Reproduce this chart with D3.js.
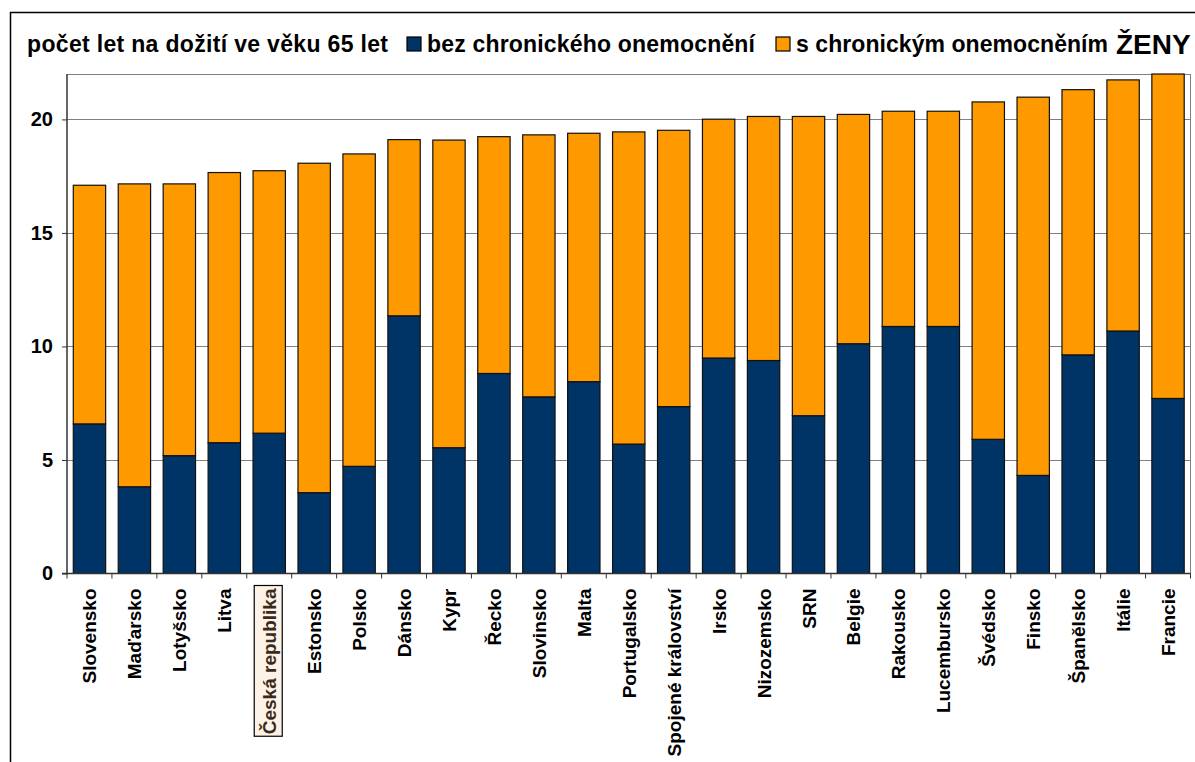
<!DOCTYPE html>
<html>
<head>
<meta charset="utf-8">
<script src="https://cdn.jsdelivr.net/npm/d3@7"></script>
<style>
  body { margin: 0; background: #fff; }
  svg { display: block; font-family: "Liberation Sans", Arial, sans-serif; }
</style>
</head>
<body>
<svg id="chart"></svg>
<script>
const countries = ['Slovensko', 'Maďarsko', 'Lotyšsko', 'Litva', 'Česká republika', 'Estonsko',
  'Polsko', 'Dánsko', 'Kypr', 'Řecko', 'Slovinsko', 'Malta', 'Portugalsko', 'Spojené království',
  'Irsko', 'Nizozemsko', 'SRN', 'Belgie', 'Rakousko', 'Lucembursko', 'Švédsko', 'Finsko',
  'Španělsko', 'Itálie', 'Francie']

// roky bez chronického onemocnění
const healthy = [6.59, 3.82, 5.19, 5.76, 6.18, 3.56, 4.72, 11.35, 5.54, 8.81, 7.78, 8.45, 5.70,
  7.35, 9.49, 9.38, 6.95, 10.12, 10.88, 10.88, 5.91, 4.32, 9.63, 10.68, 7.71]
// celková naděje dožití v 65 letech
const total = [17.10, 17.16, 17.16, 17.66, 17.74, 18.07, 18.48, 19.11, 19.09, 19.24, 19.32, 19.39,
  19.45, 19.52, 20.01, 20.13, 20.13, 20.22, 20.36, 20.36, 20.77, 20.98, 21.31, 21.74, 22.0]

const seriesNames = ['bez chronického onemocnění', 's chronickým onemocněním']
const colors = ['#003366', '#ff9900']
const yTicks = [0, 5, 10, 15, 20]
const highlight = 'Česká republika'

const W = 1195, H = 762
const pLeft = 67, pRight = 1190.5, pTop = 74, pBottom = 573.5

const svg = d3.select('#chart').attr('width', W).attr('height', H)

// outer frame (only top and left edges are visible)
svg.append('path')
   .attr('d', `M10.5,${H} V12.5 H${W}`)
   .attr('fill', 'none')
   .attr('stroke', '#000')
   .attr('stroke-width', 1.5)

let rows = countries.map((c, i) => ({
  country: c,
  [seriesNames[0]]: healthy[i],
  [seriesNames[1]]: total[i] - healthy[i]
}))
let stacked = d3.stack().keys(seriesNames)(rows)

let xScale = d3.scaleBand().domain(countries).range([pLeft, pRight]).paddingInner(0.28).paddingOuter(0.14)
let yScale = d3.scaleLinear().domain([0, 22]).range([pBottom, pTop])

// gridlines
svg.append('g')
   .selectAll('line')
   .data(yTicks.filter(t => t > 0).concat([22]))
   .enter()
   .append('line')
   .attr('x1', pLeft).attr('x2', pRight)
   .attr('y1', d => Math.round(yScale(d)) + 0.5)
   .attr('y2', d => Math.round(yScale(d)) + 0.5)
   .attr('stroke', '#808080')
   .attr('stroke-width', 1)

// right border of plot
svg.append('line')
   .attr('x1', pRight).attr('x2', pRight)
   .attr('y1', yScale(22)).attr('y2', pBottom)
   .attr('stroke', '#808080')

svg.append('clipPath').attr('id', 'plot')
   .append('rect').attr('x', pLeft).attr('y', pTop - 1).attr('width', pRight - pLeft).attr('height', pBottom - pTop + 1)

svg.append('g')
   .attr('clip-path', 'url(#plot)')
   .selectAll('g')
   .data(stacked)
   .enter()
   .append('g')
   .attr('fill', (d, i) => colors[i])
   .selectAll('rect')
   .data(d => d)
   .enter()
   .append('rect')
   .attr('x', d => xScale(d.data.country))
   .attr('width', xScale.bandwidth())
   .attr('y', d => yScale(d[1]))
   .attr('height', d => yScale(d[0]) - yScale(d[1]))
   .attr('stroke', '#111')
   .attr('stroke-width', 1.2)

// y axis
let yAxis = d3.axisLeft(yScale).tickValues(yTicks).tickSize(5).tickPadding(9)
let gy = svg.append('g')
   .attr('transform', `translate(${pLeft}, 0)`)
   .call(yAxis)
gy.select('.domain').attr('stroke', '#333').attr('stroke-width', 1.5)
   .attr('d', `M-5,${pBottom}H0V${pTop}`)
gy.selectAll('.tick line').attr('stroke', '#333')
gy.selectAll('.tick text')
  .style('font-size', '20px')
  .style('font-weight', 'bold')
  .attr('fill', '#000')

// x axis: ticks between categories
let boundaries = d3.range(countries.length + 1).map(i => pLeft + i * (pRight - pLeft) / countries.length)
let gx = svg.append('g')
gx.append('line')
  .attr('x1', pLeft).attr('x2', pRight)
  .attr('y1', pBottom).attr('y2', pBottom)
  .attr('stroke', '#333').attr('stroke-width', 1.5)
gx.selectAll('line.tk')
  .data(boundaries)
  .enter()
  .append('line')
  .attr('class', 'tk')
  .attr('x1', d => d).attr('x2', d => d)
  .attr('y1', pBottom).attr('y2', pBottom + 5)
  .attr('stroke', '#333')

// category labels
let labels = svg.append('g')
  .selectAll('g')
  .data(countries)
  .enter()
  .append('g')
  .attr('transform', d => `translate(${xScale(d) + xScale.bandwidth() / 2 + 7}, ${pBottom + 15}) rotate(-90)`)

let hlBox = labels.filter(d => d === highlight)
  .append('rect')
  .attr('y', -22)
  .attr('height', 28)
  .attr('fill', '#fdf2e8')
  .attr('stroke', '#000')
  .attr('stroke-width', 1.2)

labels.append('text')
  .attr('text-anchor', 'end')
  .style('font-size', '19px')
  .style('font-weight', 'bold')
  .attr('fill', d => d === highlight ? '#3a2a1a' : '#000')
  .text(d => d)

hlBox.each(function (d) {
  let len = d3.select(this.parentNode).select('text').node().getComputedTextLength()
  d3.select(this).attr('x', -len - 2).attr('width', len + 5)
})

// legend row
let legend = svg.append('g').style('font-weight', 'bold')
legend.append('text')
  .attr('x', 27).attr('y', 52)
  .style('font-size', '23px')
  .attr('textLength', 361)
  .text('počet let na dožití ve věku 65 let')

let legendX = [407, 776]
let legendLen = [328, 312]
seriesNames.forEach((name, i) => {
  legend.append('rect')
    .attr('x', legendX[i]).attr('y', 37)
    .attr('width', 14).attr('height', 14)
    .attr('fill', colors[i])
    .attr('stroke', '#000')
    .attr('stroke-width', 1.2)
  legend.append('text')
    .attr('x', legendX[i] + 20).attr('y', 52)
    .style('font-size', '23px')
    .attr('textLength', legendLen[i])
    .text(name)
})

legend.append('text')
  .attr('x', 1116).attr('y', 54)
  .style('font-size', '28px')
  .text('ŽENY')
</script>
</body>
</html>
